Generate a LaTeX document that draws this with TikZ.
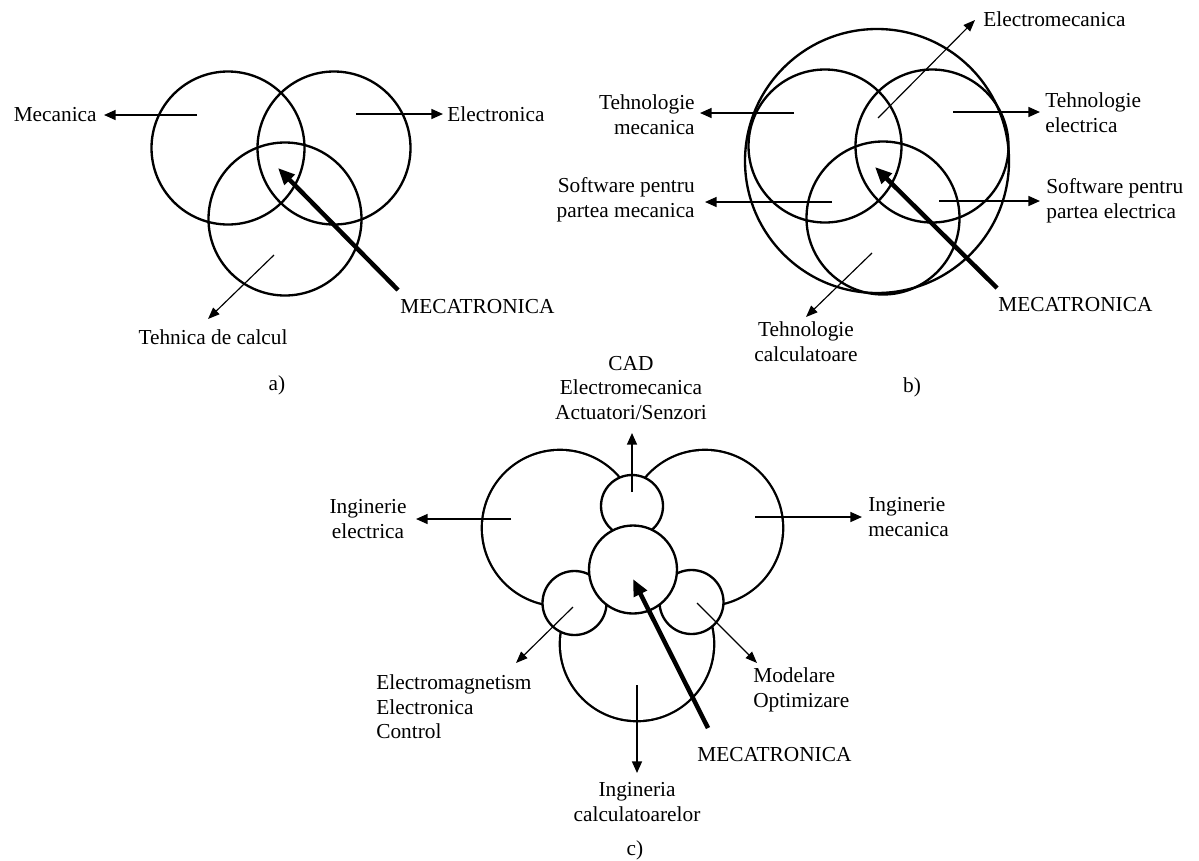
\documentclass[tikz,border=0pt]{standalone}
\usepackage{fontspec}
\setmainfont{Liberation Serif}
\usetikzlibrary{arrows.meta}
\begin{document}
\begin{tikzpicture}[x=0.6pt,y=-0.6pt,
  circ/.style={line width=1.4pt},
  bigout/.style={line width=2.8pt},
  lbl/.style={font=\fontsize{12.8}{14.8}\selectfont, inner sep=0pt},
  arr/.style={line width=1.0pt,-{Triangle[length=7pt,width=6pt]}},
  thinarr/.style={line width=0.7pt,-{Triangle[length=7pt,width=5.4pt]}},
  thickarr/.style={line width=2.7pt,-{Triangle[length=10pt,width=8.4pt]}}]
\fill[white] (0,0) rectangle (1199,860);
\useasboundingbox (0,0) rectangle (1199,860);

% ---------------- panel a ----------------
\draw[circ] (228,148) circle[radius=76.5];
\draw[circ] (334,148) circle[radius=76.5];
\draw[circ] (285,219) circle[radius=76.5];

\node[lbl,anchor=east] (mec) at (97,115) {Mecanica};
\node[lbl,anchor=west] (elo) at (447,114) {Electronica};
\node[lbl] (teh) at (213,337) {Tehnica de calcul};
\node[lbl,anchor=west] (mcta) at (400,307) {MECATRONICA};
\node[lbl] (la) at (277,385) {a)};

\coordinate (a1s) at (197,115); \coordinate (a1e) at (104,115);
\coordinate (a2s) at (356,114); \coordinate (a2e) at (443,114);
\coordinate (a3s) at (274,255); \coordinate (a3e) at (208,319);
\coordinate (a4s) at (398,290); \coordinate (a4e) at (278,168);
\draw[arr] (a1s) -- (a1e);
\draw[arr] (a2s) -- (a2e);
\draw[thinarr] (a3s) -- (a3e);
\draw[thickarr] (a4s) -- (a4e);

% ---------------- panel b ----------------
\draw[circ] (877,161) circle[radius=132];
\draw[circ] (825,146) circle[radius=76.5];
\draw[circ] (932,146) circle[radius=76.5];
\draw[circ] (883,218) circle[radius=76.5];

\node[lbl,anchor=west] (bem) at (983,19) {Electromecanica};
\node[lbl,anchor=east,align=right] (btm) at (695,115) {Tehnologie\\mecanica};
\node[lbl,anchor=east,align=right] (bsm) at (695,200) {Software pentru\\partea mecanica};
\node[lbl,align=center] (btc) at (806,342) {Tehnologie\\calculatoare};
\node[lbl,anchor=west,align=left] (bte) at (1045,113) {Tehnologie\\electrica};
\node[lbl,anchor=west,align=left] (bse) at (1046,201) {Software pentru\\partea electrica};
\node[lbl,anchor=west] (mctb) at (998,305) {MECATRONICA};
\node[lbl] (lb) at (912,387) {b)};

\coordinate (b1s) at (878,118); \coordinate (b1e) at (975,20);
\coordinate (b2s) at (794,113); \coordinate (b2e) at (700,113);
\coordinate (b3s) at (832,202); \coordinate (b3e) at (705,202);
\coordinate (b4s) at (872,253); \coordinate (b4e) at (806,317);
\coordinate (b5s) at (953,112); \coordinate (b5e) at (1040,112);
\coordinate (b6s) at (939,201); \coordinate (b6e) at (1040,201);
\coordinate (b7s) at (997,288); \coordinate (b7e) at (875,167);
\draw[thinarr] (b1s) -- (b1e);
\draw[arr] (b2s) -- (b2e);
\draw[arr] (b3s) -- (b3e);
\draw[thinarr] (b4s) -- (b4e);
\draw[arr] (b5s) -- (b5e);
\draw[arr] (b6s) -- (b6e);
\draw[thickarr] (b7s) -- (b7e);

% ---------------- panel c ----------------
% big circles: outline of their union
\draw[bigout] (560,528) circle[radius=77];
\draw[bigout] (705,528) circle[radius=77];
\draw[bigout] (637,644) circle[radius=76];
\fill[white] (560,528) circle[radius=77];
\fill[white] (705,528) circle[radius=77];
\fill[white] (637,644) circle[radius=76];
% small circles and central circle
\draw[circ,fill=white] (632,506) circle[radius=31];
\draw[circ,fill=white] (574.5,603) circle[radius=32];
\draw[circ,fill=white] (691.5,602) circle[radius=32];
\draw[circ,fill=white] (633,569.5) circle[radius=44];

\node[lbl,align=center] (ccad) at (631,388) {CAD\\Electromecanica\\Actuatori/Senzori};
\node[lbl,align=center] (cie) at (368,519) {Inginerie\\electrica};
\node[lbl,anchor=west,align=left] (cim) at (868,517) {Inginerie\\mecanica};
\node[lbl,anchor=west,align=left] (cem) at (376,707) {Electromagnetism\\Electronica\\Control};
\node[lbl,anchor=west,align=left] (cmo) at (753,690) {Modelare\\Optimizare};
\node[lbl,align=center] (cic) at (637,802) {Ingineria\\calculatoarelor};
\node[lbl,anchor=west] (mctc) at (697,755) {MECATRONICA};
\node[lbl] (lc) at (635,850) {c)};

\coordinate (c1s) at (632,492); \coordinate (c1e) at (632,433);
\coordinate (c2s) at (511,519); \coordinate (c2e) at (416,519);
\coordinate (c3s) at (755,517); \coordinate (c3e) at (862,517);
\coordinate (c4s) at (573,607); \coordinate (c4e) at (516,663);
\coordinate (c5s) at (697,603); \coordinate (c5e) at (757,663);
\coordinate (c6s) at (637,685); \coordinate (c6e) at (637,773);
\coordinate (c7s) at (708,728); \coordinate (c7e) at (633,579);
\draw[arr] (c1s) -- (c1e);
\draw[arr] (c2s) -- (c2e);
\draw[arr] (c3s) -- (c3e);
\draw[thinarr] (c4s) -- (c4e);
\draw[thinarr] (c5s) -- (c5e);
\draw[arr] (c6s) -- (c6e);
\draw[thickarr] (c7s) -- (c7e);
\end{tikzpicture}
\end{document}
